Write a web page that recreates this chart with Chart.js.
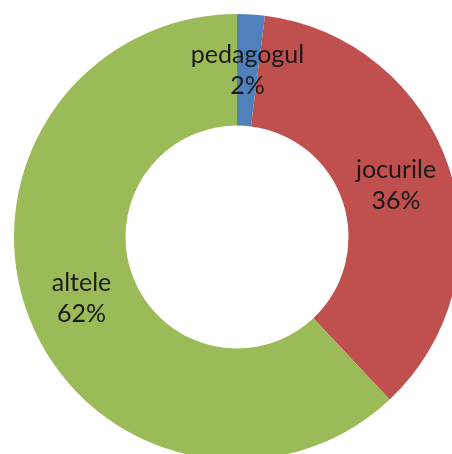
<!DOCTYPE html>
<html>
<head>
<meta charset="utf-8">
<script src="https://cdn.jsdelivr.net/npm/chart.js@4"></script>
<style>
  html, body { margin: 0; padding: 0; background: #fff; overflow: hidden; }
  #wrap { width: 452px; height: 454px; overflow: hidden; position: relative; }
  canvas { position: absolute; left: 0; top: 0; }
</style>
</head>
<body>
<div id="wrap"><canvas id="chart1" width="474" height="474"></canvas></div>
<script>
// ----------------------- DATA -----------------------
const categories = ["pedagogul", "jocurile", "altele"];
const values = [2, 36, 62];
const percentLabels = ["2%", "36%", "62%"];
const sliceColors = ["#4F81BD", "#C0504D", "#9BBB59"];

// plugin: name + percent in the middle of each slice
const sliceLabels = {
  id: "sliceLabels",
  afterDatasetsDraw(chart, args, options) {
    const { ctx } = chart;
    const meta = chart.getDatasetMeta(0);
    ctx.save();
    ctx.fillStyle = options.color;
    ctx.font = options.font;
    ctx.textAlign = "center";
    ctx.textBaseline = "middle";
    meta.data.forEach((arc, i) => {
      const p = arc.getCenterPoint();
      ctx.fillText(categories[i], p.x, p.y - options.lineGap / 2);
      ctx.fillText(percentLabels[i], p.x, p.y + options.lineGap / 2);
    });
    ctx.restore();
  },
};

new Chart(document.getElementById("chart1"), {
  type: "doughnut",
  data: {
    labels: categories,
    datasets: [
      {
        data: values,
        backgroundColor: sliceColors,
        borderWidth: 0,
      },
    ],
  },
  options: {
    responsive: false,
    animation: false,
    cutout: "50%",
    layout: { padding: 14 },
    plugins: {
      legend: { display: false },
      tooltip: { enabled: false },
      sliceLabels: {
        color: "#1a1a1a",
        font: "25px Lato",
        lineGap: 31,
      },
    },
  },
  plugins: [sliceLabels],
});
</script>
</body>
</html>
